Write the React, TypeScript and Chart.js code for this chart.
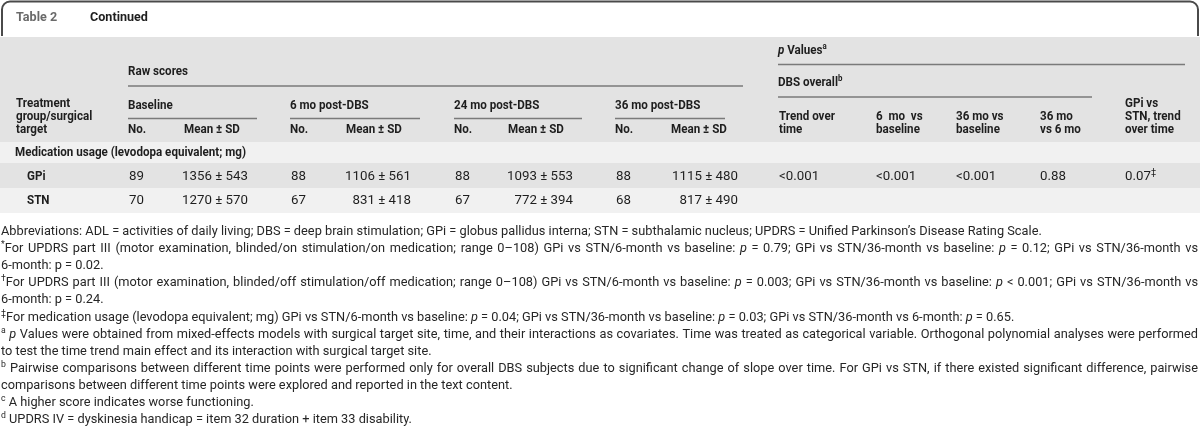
import { useEffect, useRef } from 'react';
import { Chart, registerables } from 'chart.js';
Chart.register(...registerables);

// ---------- data ----------
const tableTitle = 'Table 2';
const tableSubtitle = 'Continued';
const rawScoresLabel = 'Raw scores';
const pValuesLabel = '_p_ Values^a^';
const dbsOverallLabel = 'DBS overall^b^';
const rowHeader = ['Treatment', 'group/surgical', 'target'];
const timePoints = ['Baseline', '6 mo post-DBS', '24 mo post-DBS', '36 mo post-DBS'];
const subHeaders = ['No.', 'Mean ± SD'];
const pValueHeaders = [
  ['Trend over', 'time'],
  ['6  mo  vs', 'baseline'],
  ['36 mo vs', 'baseline'],
  ['36 mo', 'vs 6 mo'],
  ['GPi vs', 'STN, trend', 'over time'],
];
const sectionLabel = 'Medication usage (levodopa equivalent; mg)';
const groups = ['GPi', 'STN'];
const gpiN = [89, 88, 88, 88];
const gpiMean = [1356, 1106, 1093, 1115];
const gpiSD = [543, 561, 553, 480];
const stnN = [70, 67, 67, 68];
const stnMean = [1270, 831, 772, 817];
const stnSD = [570, 418, 394, 490];
const gpiP = ['<0.001', '<0.001', '<0.001', '0.88', '0.07^‡^'];
const stnP = ['', '', '', '', ''];
const footnotes = [
  'Abbreviations: ADL = activities of daily living; DBS = deep brain stimulation; GPi = globus pallidus interna; STN = subthalamic nucleus; UPDRS = Unified Parkinson’s Disease Rating Scale.',
  '^*^For UPDRS part III (motor examination, blinded/on stimulation/on medication; range 0–108) GPi vs STN/6-month vs baseline: _p_ = 0.79; GPi vs STN/36-month vs baseline: _p_ = 0.12; GPi vs STN/36-month vs',
  '6-month: p = 0.02.',
  '^†^For UPDRS part III (motor examination, blinded/off stimulation/off medication; range 0–108) GPi vs STN/6-month vs baseline: _p_ = 0.003; GPi vs STN/36-month vs baseline: _p_ < 0.001; GPi vs STN/36-month vs',
  '6-month: p = 0.24.',
  '^‡^For medication usage (levodopa equivalent; mg) GPi vs STN/6-month vs baseline: _p_ = 0.04; GPi vs STN/36-month vs baseline: _p_ = 0.03; GPi vs STN/36-month vs 6-month: _p_ = 0.65.',
  '^a^ _p_ Values were obtained from mixed-effects models with surgical target site, time, and their interactions as covariates. Time was treated as categorical variable. Orthogonal polynomial analyses were performed',
  'to test the time trend main effect and its interaction with surgical target site.',
  '^b^ Pairwise comparisons between different time points were performed only for overall DBS subjects due to significant change of slope over time. For GPi vs STN, if there existed significant difference, pairwise',
  'comparisons between different time points were explored and reported in the text content.',
  '^c^ A higher score indicates worse functioning.',
  '^d^ UPDRS IV = dyskinesia handicap = item 32 duration + item 33 disability.',
];
const justifiedFootnotes = [1, 3, 6, 8];

// ---------- layout ----------
const FONT = 'Roboto, "Liberation Sans", Arial, sans-serif';
const W = 1200;
const H = 426;
const TEXT = '#1e1e1e';
const GRAY = '#e3e3e3';
const LIGHT = '#f1f1f1';
const RULE = '#7a7a7a';
const groupX = [128, 290, 454, 615];
const groupRuleEnd = [257, 420, 582, 725];
const meanX = [184, 346, 508, 671];
const meanRight = [248, 411, 573, 738];
const pX = [779, 876, 956, 1040, 1125];
const rowY = [177, 201];

type Seg = { t: string; sup?: boolean; it?: boolean };
function parse(s: string): Seg[] {
  const segs: Seg[] = [];
  const re = /\^([^^]*)\^|_([^_]*)_/g;
  let last = 0;
  let m: RegExpExecArray | null;
  while ((m = re.exec(s))) {
    if (m.index > last) segs.push({ t: s.slice(last, m.index) });
    if (m[1] !== undefined) segs.push({ t: m[1], sup: true });
    else segs.push({ t: m[2], it: true });
    last = re.lastIndex;
  }
  if (last < s.length) segs.push({ t: s.slice(last) });
  return segs;
}

type Opt = { size: number; bold?: boolean; sx: number; color?: string; align?: 'left' | 'right'; justify?: number };
function fontFor(seg: Seg, o: Opt) {
  const size = seg.sup ? o.size * 0.68 : o.size;
  return `${seg.it ? 'italic ' : ''}${o.bold ? 'bold ' : ''}${size}px ${FONT}`;
}
function richWidth(ctx: CanvasRenderingContext2D, s: string, o: Opt) {
  let w = 0;
  for (const seg of parse(s)) {
    ctx.font = fontFor(seg, o);
    w += ctx.measureText(seg.t).width * o.sx;
  }
  return w;
}
function drawRich(ctx: CanvasRenderingContext2D, s: string, x: number, y: number, o: Opt) {
  const segs = parse(s);
  const total = richWidth(ctx, s, o);
  let extra = 0;
  if (o.justify) {
    const spaces = segs.reduce((n, sg) => n + (sg.t.match(/ /g) || []).length, 0);
    if (spaces > 0) extra = Math.max(-0.5, (o.justify - total) / spaces);
  }
  let cx = o.align === 'right' ? x - total : x;
  ctx.fillStyle = o.color || TEXT;
  ctx.textBaseline = 'middle';
  ctx.textAlign = 'left';
  for (const seg of segs) {
    ctx.font = fontFor(seg, o);
    const dy = seg.sup ? -o.size * 0.33 : 0;
    const pieces = extra ? seg.t.split(/( )/) : [seg.t];
    for (const p of pieces) {
      if (!p) continue;
      ctx.save();
      ctx.translate(cx, y + dy);
      ctx.scale(o.sx, 1);
      ctx.fillText(p, 0, 0);
      ctx.restore();
      cx += ctx.measureText(p).width * o.sx + (p === ' ' ? extra : 0);
    }
  }
}
function hRule(ctx: CanvasRenderingContext2D, x0: number, x1: number, y: number) {
  ctx.strokeStyle = RULE;
  ctx.lineWidth = 1.5;
  ctx.beginPath();
  ctx.moveTo(x0, y);
  ctx.lineTo(x1, y);
  ctx.stroke();
}

const tablePlugin = {
  id: 'tableDraw',
  afterDraw(chart: Chart) {
    const ctx = chart.ctx;
    ctx.save();
    ctx.fillStyle = '#ffffff';
    ctx.fillRect(0, 0, W, H);

    // fit horizontal scale of the fonts to the reference widths
    const fnSize = 12.2;
    const sxN = 1186 / richWidth(ctx, footnotes[6], { size: fnSize, sx: 1 });
    const sxT = 66 / richWidth(ctx, '1356 ± 543', { size: 12, sx: 1 });
    const sxB = 231 / richWidth(ctx, sectionLabel, { size: 12, bold: true, sx: 1 });
    const N: Opt = { size: 12, sx: sxT };
    const B: Opt = { size: 12, sx: sxB, bold: true };

    // bands
    ctx.fillStyle = GRAY;
    ctx.fillRect(0, 37, W, 105);
    ctx.fillStyle = LIGHT;
    ctx.fillRect(0, 142, W, 21);
    ctx.fillStyle = GRAY;
    ctx.fillRect(0, 163, W, 25);
    ctx.fillStyle = LIGHT;
    ctx.fillRect(0, 188, W, 25);

    // title box border
    ctx.strokeStyle = '#4a4a4a';
    ctx.lineWidth = 2;
    ctx.beginPath();
    ctx.moveTo(2, 36);
    ctx.lineTo(2, 10);
    ctx.arcTo(2, 1.5, 10, 1.5, 8);
    ctx.lineTo(1190, 1.5);
    ctx.arcTo(1198, 1.5, 1198, 10, 8);
    ctx.lineTo(1198, 36);
    ctx.stroke();

    drawRich(ctx, tableTitle, 16, 18, { size: 13, sx: sxB, bold: true, color: '#6a6a6a' });
    drawRich(ctx, tableSubtitle, 90, 18, { size: 13, sx: sxB, bold: true });

    // header
    drawRich(ctx, rawScoresLabel, 128, 72, B);
    hRule(ctx, 128, 743, 86);
    drawRich(ctx, pValuesLabel, 778, 51, B);
    hRule(ctx, 778, 1185, 64.5);
    drawRich(ctx, dbsOverallLabel, 778, 83, B);
    hRule(ctx, 778, 1092, 97);
    rowHeader.forEach((t, i) => drawRich(ctx, t, 16, 104 + i * 13, B));
    timePoints.forEach((t, i) => {
      drawRich(ctx, t, groupX[i], 106, B);
      hRule(ctx, groupX[i], groupRuleEnd[i], 118.5);
      drawRich(ctx, subHeaders[0], groupX[i], 130, B);
      drawRich(ctx, subHeaders[1], meanX[i], 130, B);
    });
    pValueHeaders.forEach((lines, i) => {
      const start = 130 - (lines.length - 1) * 13;
      lines.forEach((t, j) => drawRich(ctx, t, pX[i], start + j * 13, B));
    });

    // body
    drawRich(ctx, sectionLabel, 15, 153, B);
    const ns = [gpiN, stnN];
    const means = [gpiMean, stnMean];
    const sds = [gpiSD, stnSD];
    const ps = [gpiP, stnP];
    groups.forEach((g, r) => {
      const y = rowY[r];
      drawRich(ctx, g, 27, y, B);
      for (let i = 0; i < timePoints.length; i++) {
        drawRich(ctx, String(ns[r][i]), groupX[i] + 1, y, N);
        drawRich(ctx, `${means[r][i]} ± ${sds[r][i]}`, meanRight[i], y, { ...N, align: 'right' });
      }
      ps[r].forEach((p, i) => {
        if (p) drawRich(ctx, p, pX[i], y, N);
      });
    });

    // footnotes
    footnotes.forEach((f, i) => {
      const y = 232 + i * 17.1;
      drawRich(ctx, f, 1, y, {
        size: fnSize,
        sx: sxN,
        color: '#262626',
        justify: justifiedFootnotes.includes(i) ? 1197 : undefined,
      });
    });
    ctx.restore();
  },
};

export default function App() {
  const ref = useRef<HTMLCanvasElement | null>(null);
  useEffect(() => {
    document.body.style.margin = '0';
    if (!ref.current) return;
    const chart = new Chart(ref.current, {
      type: 'bar',
      data: { labels: [], datasets: [] },
      options: {
        animation: false,
        responsive: false,
        devicePixelRatio: 1,
        events: [],
        layout: { padding: 0 },
        plugins: { legend: { display: false }, tooltip: { enabled: false }, title: { display: false } },
        scales: { x: { display: false }, y: { display: false } },
      },
      plugins: [tablePlugin],
    });
    return () => chart.destroy();
  }, []);
  return (
    <div style={{ width: W, height: H }}>
      <canvas ref={ref} width={W} height={H} style={{ display: 'block', width: W, height: H }} />
    </div>
  );
}
